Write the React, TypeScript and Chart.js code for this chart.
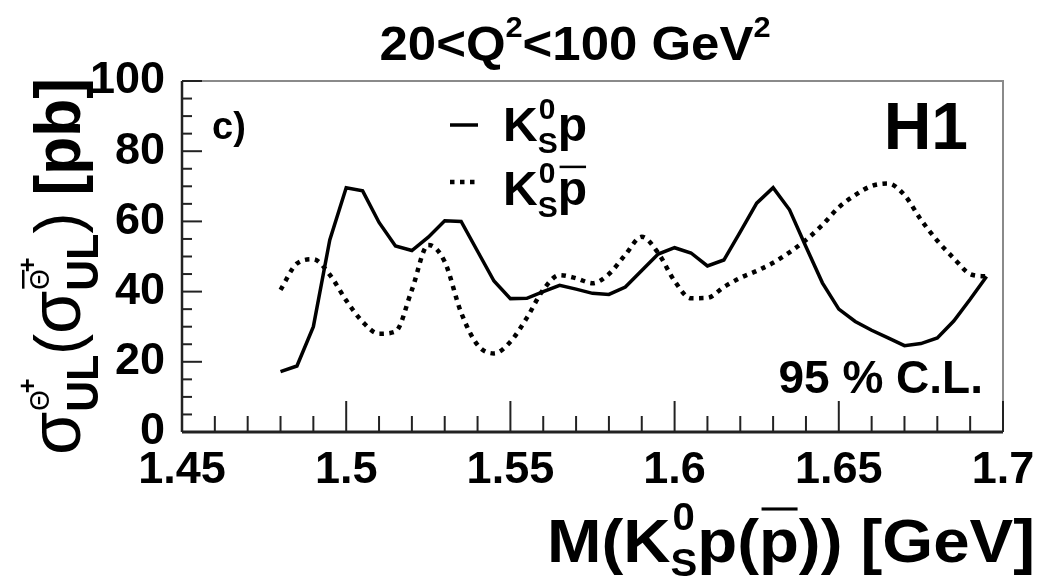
import React, { useEffect, useRef } from "react";
import { Chart, registerables } from "chart.js";

Chart.register(...registerables);

// ---- data ----
const masses = [
  1.48, 1.485, 1.49, 1.495, 1.5, 1.505, 1.51, 1.515, 1.52, 1.525, 1.53, 1.535,
  1.54, 1.545, 1.55, 1.555, 1.56, 1.565, 1.57, 1.575, 1.58, 1.585, 1.59, 1.595,
  1.6, 1.605, 1.61, 1.615, 1.62, 1.625, 1.63, 1.635, 1.64, 1.645, 1.65, 1.655,
  1.66, 1.665, 1.67, 1.675, 1.68, 1.685, 1.69, 1.695,
];
const limitKp = [
  17.2, 18.8, 30, 54.7, 69.6, 68.7, 59.7, 53, 51.7, 55.5, 60.2, 60,
  51.5, 43, 38, 38.1, 40, 41.8, 40.7, 39.5, 39.2, 41.3, 46, 50.7,
  52.5, 51, 47.3, 49, 57, 65.2, 69.6, 63.3, 52.8, 42.5, 35, 31.5,
  29, 26.8, 24.6, 25.2, 26.8, 31.6, 37.8, 44.3,
];
const limitKpbar = [
  40.5, 48, 49.2, 44.8, 37.5, 31.4, 28, 28.6, 40.5, 53.3, 48.5, 34,
  24.8, 22.4, 25.7, 32.5, 40.5, 44.7, 43.8, 42.4, 45, 50.5, 55.6, 51,
  43, 38.1, 38.2, 41.3, 43.9, 45.9, 48.2, 51.2, 54.7, 59, 64, 67.5,
  70.1, 70.8, 67.5, 60.5, 54.5, 49.5, 45, 44.3,
];
const xTickValues = [1.45, 1.5, 1.55, 1.6, 1.65, 1.7];
const xTickLabels = ["1.45", "1.5", "1.55", "1.6", "1.65", "1.7"];
const yTickValues = [0, 20, 40, 60, 80, 100];
const yTickLabels = ["0", "20", "40", "60", "80", "100"];
const xMinorStep = 0.01;
const yMinorStep = 5;

const FAM = '"Liberation Sans", Arial, Helvetica, sans-serif';

type Part = {
  t?: string;
  s?: number;
  w?: string;
  dy?: number;
  dx?: number;
  over?: boolean;
  overY?: number;
  stack?: Part[];
};

function fontOf(p: Part) {
  return `${p.w ?? "bold"} ${p.s ?? 40}px ${FAM}`;
}

function partWidth(ctx: CanvasRenderingContext2D, p: Part): number {
  if (p.stack) return Math.max(...p.stack.map((q) => partWidth(ctx, q)));
  ctx.font = fontOf(p);
  return ctx.measureText(p.t ?? "").width + (p.dx ?? 0);
}

function drawOne(ctx: CanvasRenderingContext2D, q: Part, cx: number) {
  ctx.font = fontOf(q);
  ctx.textBaseline = "alphabetic";
  ctx.textAlign = "left";
  ctx.fillStyle = "#000";
  const dy = q.dy ?? 0;
  const x = cx + (q.dx ?? 0);
  ctx.fillText(q.t ?? "", x, dy);
  if (q.over) {
    const w = ctx.measureText(q.t ?? "").width;
    const s = q.s ?? 40;
    ctx.fillRect(x + s * 0.04, dy - s * (q.overY ?? 0.85), w - s * 0.06, Math.max(2.5, s * 0.05));
  }
}

function drawParts(
  ctx: CanvasRenderingContext2D,
  parts: Part[],
  x: number,
  y: number,
  align: "left" | "center" | "right",
  fit?: number
) {
  const total = parts.reduce((a, p) => a + partWidth(ctx, p), 0);
  const sx = fit ? fit / total : 1;
  const w = total * sx;
  const x0 = align === "center" ? x - w / 2 : align === "right" ? x - w : x;
  ctx.save();
  ctx.translate(x0, y);
  ctx.scale(sx, 1);
  let cx = 0;
  for (const p of parts) {
    const pw = partWidth(ctx, p);
    const items = p.stack ?? [p];
    for (const q of items) drawOne(ctx, q, cx);
    cx += pw;
  }
  ctx.restore();
}

const decorPlugin = {
  id: "decor",
  beforeDatasetsDraw(chart: any) {
    const ctx: CanvasRenderingContext2D = chart.ctx;
    const { left, right, top, bottom } = chart.chartArea;
    const xs = chart.scales.x;
    const ys = chart.scales.y;
    ctx.save();
    // frame
    ctx.strokeStyle = "#8a8a8a";
    ctx.lineWidth = 2;
    ctx.beginPath();
    ctx.moveTo(left, top);
    ctx.lineTo(right, top);
    ctx.lineTo(right, bottom);
    ctx.stroke();
    ctx.strokeStyle = "#222";
    ctx.lineWidth = 2.5;
    ctx.beginPath();
    ctx.moveTo(left, top);
    ctx.lineTo(left, bottom);
    ctx.stroke();
    ctx.lineWidth = 3;
    ctx.beginPath();
    ctx.moveTo(left, bottom);
    ctx.lineTo(right, bottom);
    ctx.stroke();
    // ticks
    ctx.lineWidth = 2;
    ctx.strokeStyle = "#222";
    const nx = Math.round((xs.max - xs.min) / xMinorStep);
    for (let i = 0; i <= nx; i++) {
      const v = xs.min + i * xMinorStep;
      const px = xs.getPixelForValue(v);
      const major = i % 5 === 0;
      ctx.beginPath();
      ctx.moveTo(px, bottom);
      ctx.lineTo(px, bottom - (major ? 31 : 16));
      ctx.stroke();
    }
    const ny = Math.round((ys.max - ys.min) / yMinorStep);
    for (let i = 0; i <= ny; i++) {
      const v = ys.min + i * yMinorStep;
      const py = ys.getPixelForValue(v);
      const major = i % 4 === 0;
      ctx.beginPath();
      ctx.moveTo(left, py);
      ctx.lineTo(left + (major ? 20 : 10), py);
      ctx.stroke();
    }
    ctx.restore();
  },
  afterDraw(chart: any) {
    const ctx: CanvasRenderingContext2D = chart.ctx;
    ctx.save();
    // title
    drawParts(
      ctx,
      [
        { t: "20<Q", s: 48 },
        { t: "2", s: 29, dy: -23 },
        { t: "<100 GeV", s: 48 },
        { t: "2", s: 29, dy: -23 },
      ],
      575,
      60,
      "center",
      391
    );
    // panel label, experiment, CL
    drawParts(ctx, [{ t: "c)", s: 38 }], 212, 139, "left");
    drawParts(ctx, [{ t: "H1", s: 66 }], 968, 149, "right");
    drawParts(ctx, [{ t: "95 % C.L.", s: 46 }], 983, 393, "right");

    // legend
    const ds = chart.data.datasets;
    ctx.strokeStyle = "#000";
    ctx.lineWidth = ds[0].borderWidth;
    ctx.setLineDash([]);
    ctx.beginPath();
    ctx.moveTo(450, 125);
    ctx.lineTo(478, 125);
    ctx.stroke();
    ctx.lineWidth = ds[1].borderWidth;
    ctx.setLineDash(ds[1].borderDash);
    ctx.beginPath();
    ctx.moveTo(450, 182);
    ctx.lineTo(480, 182);
    ctx.stroke();
    ctx.setLineDash([]);
    drawParts(
      ctx,
      [
        { t: "K", s: 48 },
        { stack: [{ t: "0", s: 30, dy: -22, dx: 1 }, { t: "S", s: 30, dy: 12 }] },
        { t: "p", s: 48 },
      ],
      503,
      141,
      "left"
    );
    drawParts(
      ctx,
      [
        { t: "K", s: 48 },
        { stack: [{ t: "0", s: 30, dy: -22, dx: 1 }, { t: "S", s: 30, dy: 12 }] },
        { t: "p", s: 48, over: true, overY: 0.82 },
      ],
      503,
      205,
      "left"
    );

    // x axis title
    drawParts(
      ctx,
      [
        { t: "M(K", s: 62 },
        { stack: [{ t: "0", s: 38, dy: -32, dx: 2 }, { t: "S", s: 38, dy: 14 }] },
        { t: "p(", s: 62 },
        { t: "p", s: 62, over: true, overY: 0.88 },
        { t: ")) [GeV]", s: 62 },
      ],
      547,
      562,
      "left",
      488
    );

    // y axis title (rotated)
    ctx.save();
    ctx.translate(80, 455);
    ctx.rotate(-Math.PI / 2);
    drawParts(
      ctx,
      [
        { t: "σ", s: 72, w: "normal" },
        {
          stack: [
            { t: "UL", s: 44, dy: 18 },
            { t: "Θ", s: 27, w: "normal", dy: -31, dx: 1 },
            { t: "+", s: 26, dy: -44, dx: 19 },
          ],
        },
        { t: "(", s: 64, w: "normal" },
        { t: "σ", s: 72, w: "normal" },
        {
          stack: [
            { t: "UL", s: 44, dy: 18 },
            { t: "Θ", s: 27, w: "normal", dy: -31, dx: 1, over: true, overY: 1.0 },
            { t: "+", s: 26, dy: -44, dx: 19 },
          ],
        },
        { t: ")", s: 64, w: "normal" },
        { t: " [pb]", s: 64 },
      ],
      0,
      0,
      "left",
      377
    );
    ctx.restore();
    ctx.restore();
  },
};

export default function App() {
  const canvasRef = useRef<HTMLCanvasElement>(null);

  useEffect(() => {
    const canvas = canvasRef.current;
    if (!canvas) return;
    const tickFont = { family: FAM, size: 45, weight: "bold" as const };
    const chart = new Chart(canvas, {
      type: "line",
      data: {
        datasets: [
          {
            label: "K0S p",
            data: masses.map((m, i) => ({ x: m, y: limitKp[i] })),
            borderColor: "#000",
            borderWidth: 3.5,
            pointRadius: 0,
            tension: 0,
            fill: false,
          },
          {
            label: "K0S pbar",
            data: masses.map((m, i) => ({ x: m, y: limitKpbar[i] })),
            borderColor: "#000",
            borderWidth: 4.5,
            borderDash: [4.5, 5.5],
            pointRadius: 0,
            cubicInterpolationMode: "monotone",
            fill: false,
          },
        ],
      },
      options: {
        responsive: false,
        animation: false,
        devicePixelRatio: 1,
        layout: { padding: { top: 81, right: 49, left: 0, bottom: 0 } },
        plugins: { legend: { display: false }, tooltip: { enabled: false } },
        scales: {
          x: {
            type: "linear",
            min: 1.45,
            max: 1.7,
            afterBuildTicks: (s: any) => {
              s.ticks = xTickValues.map((v) => ({ value: v }));
            },
            afterFit: (s: any) => {
              s.height = 154;
            },
            ticks: {
              callback: (_v: any, i: number) => xTickLabels[i],
              font: tickFont,
              color: "#000",
              padding: 12,
              maxRotation: 0,
              autoSkip: false,
            },
            grid: { display: false, drawTicks: false },
            border: { display: false },
          },
          y: {
            type: "linear",
            min: 0,
            max: 100,
            afterBuildTicks: (s: any) => {
              s.ticks = yTickValues.map((v) => ({ value: v }));
            },
            afterFit: (s: any) => {
              s.width = 182;
            },
            ticks: {
              callback: (_v: any, i: number) => yTickLabels[i],
              font: tickFont,
              color: "#000",
              padding: 17,
              autoSkip: false,
            },
            grid: { display: false, drawTicks: false },
            border: { display: false },
          },
        },
      },
      plugins: [decorPlugin],
    } as any);
    return () => chart.destroy();
  }, []);

  return (
    <div
      style={{
        position: "fixed",
        left: 0,
        top: 0,
        width: 1052,
        height: 586,
        background: "#fff",
      }}
    >
      <canvas ref={canvasRef} width={1052} height={586} style={{ display: "block" }} />
    </div>
  );
}
